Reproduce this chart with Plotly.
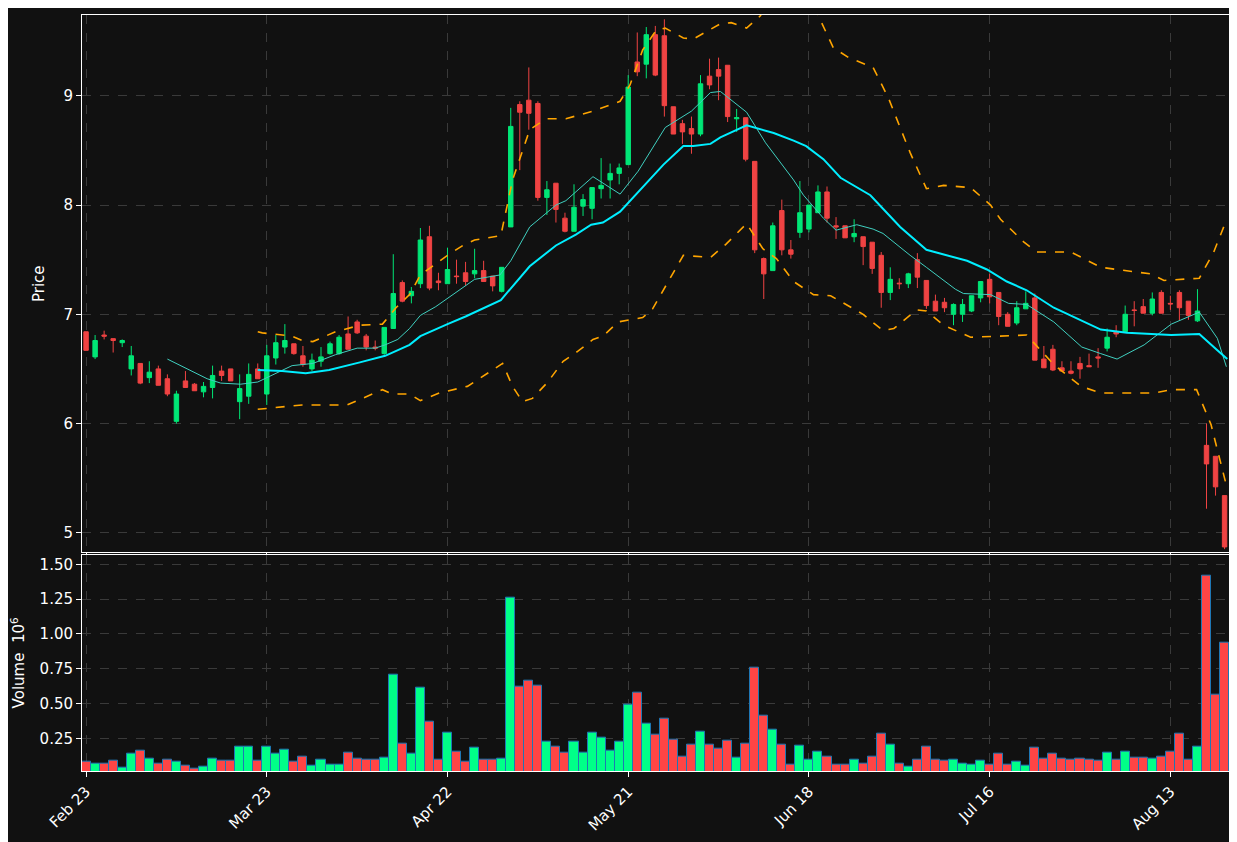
import plotly.graph_objects as go
from plotly.subplots import make_subplots

opens  = [6.84,6.61,6.81,6.777,6.74,6.50,6.55,6.42,6.50,6.41,6.02,6.39,6.36,6.29,6.33,6.48,6.50,6.20,6.25,6.50,
          6.27,6.60,6.70,6.73,6.62,6.50,6.57,6.64,6.64,6.82,6.93,6.80,6.70,6.64,6.87,7.29,7.17,7.28,7.71,7.305,
          7.28,7.35,7.38,7.37,7.40,7.35,7.21,7.80,8.92,8.96,8.93,8.07,8.20,7.88,7.76,7.99,7.97,8.15,8.23,8.29,
          8.37,9.31,9.29,9.56,9.55,8.90,8.745,8.70,8.65,9.18,9.24,9.28,8.79,8.80,8.40,7.51,7.40,7.95,7.59,7.75,
          7.78,7.93,8.12,7.81,7.81,7.71,7.71,7.66,7.54,7.20,7.285,7.28,7.50,7.31,7.12,7.11,7.00,7.00,7.03,7.15,
          7.32,7.20,7.00,6.92,7.05,7.15,6.59,6.68,6.51,6.48,6.55,6.53,6.61,6.69,6.84,6.84,7.04,7.07,7.01,7.20,
          7.10,7.20,7.12,6.94,5.80,5.70,5.34]
highs  = [6.84,6.81,6.85,6.78,6.77,6.71,6.55,6.57,6.53,6.45,6.30,6.48,6.37,6.38,6.53,6.53,6.50,6.45,6.55,6.55,
          6.72,6.81,6.91,6.73,6.71,6.64,6.70,6.75,6.81,6.98,6.95,6.82,6.76,6.88,7.55,7.31,7.25,7.79,7.81,7.38,
          7.61,7.50,7.48,7.60,7.49,7.35,7.43,8.89,8.95,9.26,8.95,8.22,8.20,7.93,8.19,8.10,8.16,8.43,8.38,8.38,
          9.19,9.58,9.63,9.64,9.70,8.90,8.78,8.81,9.19,9.34,9.35,9.28,8.88,8.80,8.40,7.52,7.84,8.05,7.68,8.22,
          8.00,8.18,8.17,7.89,7.81,7.87,7.71,7.66,7.57,7.43,7.33,7.38,7.56,7.31,7.18,7.15,7.10,7.14,7.17,7.30,
          7.37,7.20,7.02,7.12,7.21,7.19,6.71,6.72,6.57,6.57,6.61,6.64,6.69,6.87,6.90,7.08,7.12,7.14,7.20,7.22,
          7.17,7.22,7.12,7.23,6.00,5.70,5.34]
lows   = [6.67,6.59,6.77,6.65,6.70,6.44,6.36,6.37,6.35,6.25,6.00,6.33,6.30,6.24,6.23,6.39,6.39,6.04,6.18,6.41,
          6.17,6.54,6.64,6.63,6.52,6.48,6.52,6.63,6.63,6.68,6.82,6.67,6.67,6.63,6.87,7.11,7.10,7.24,7.22,7.22,
          7.28,7.28,7.26,7.33,7.30,7.21,7.20,7.80,8.32,8.69,8.04,7.91,7.84,7.75,7.76,7.90,7.87,8.06,8.06,8.19,
          8.37,9.18,9.16,9.18,8.81,8.65,8.56,8.47,8.63,9.06,8.96,8.76,8.67,8.40,7.56,7.14,7.40,7.54,7.51,7.70,
          7.75,7.93,7.84,7.69,7.70,7.66,7.45,7.37,7.06,7.13,7.23,7.24,7.24,7.05,7.03,7.02,6.90,6.93,7.02,7.11,
          7.10,6.90,6.89,6.90,7.05,6.58,6.51,6.48,6.48,6.45,6.41,6.52,6.51,6.66,6.79,6.84,6.89,7.01,6.99,7.01,
          7.04,6.94,6.95,6.93,5.22,5.34,4.85]
closes = [6.67,6.76,6.80,6.76,6.76,6.62,6.37,6.47,6.35,6.27,6.27,6.33,6.30,6.34,6.44,6.44,6.39,6.32,6.45,6.41,
          6.62,6.74,6.76,6.64,6.54,6.58,6.61,6.73,6.79,6.68,6.83,6.70,6.69,6.88,7.19,7.12,7.21,7.68,7.24,7.29,
          7.41,7.345,7.30,7.40,7.30,7.26,7.43,8.72,8.85,8.84,8.07,8.14,7.96,7.76,7.98,8.05,8.16,8.18,8.29,8.34,
          9.08,9.22,9.56,9.19,8.91,8.65,8.67,8.65,9.11,9.10,9.18,8.81,8.80,8.42,7.59,7.37,7.81,7.59,7.55,7.93,
          8.00,8.12,7.88,7.80,7.70,7.74,7.62,7.42,7.20,7.32,7.28,7.37,7.34,7.08,7.03,7.06,7.09,7.09,7.17,7.30,
          7.16,6.98,6.89,7.06,7.10,6.58,6.51,6.49,6.48,6.46,6.50,6.52,6.60,6.79,6.82,7.00,7.035,7.01,7.14,7.01,
          7.095,7.06,6.99,7.03,5.63,5.42,4.87]
volumes = [0.08,0.07,0.07,0.086,0.04,0.136,0.164,0.107,0.07,0.093,0.079,0.05,0.03,0.043,0.107,0.086,0.086,0.193,0.193,0.086,
           0.193,0.136,0.171,0.079,0.121,0.05,0.10,0.057,0.064,0.15,0.107,0.10,0.093,0.114,0.707,0.214,0.143,0.614,0.371,0.10,
           0.293,0.157,0.079,0.186,0.093,0.093,0.107,1.264,0.621,0.664,0.629,0.229,0.193,0.15,0.229,0.15,0.293,0.257,0.164,0.229,
           0.493,0.579,0.357,0.279,0.393,0.243,0.121,0.207,0.30,0.207,0.179,0.236,0.114,0.214,0.757,0.414,0.314,0.207,0.064,0.20,
           0.093,0.157,0.121,0.064,0.057,0.093,0.07,0.121,0.286,0.207,0.07,0.043,0.093,0.193,0.093,0.086,0.093,0.07,0.057,0.086,
           0.057,0.136,0.057,0.079,0.05,0.186,0.107,0.136,0.107,0.093,0.107,0.093,0.086,0.15,0.10,0.157,0.114,0.114,0.107,0.121,
           0.157,0.286,0.093,0.193,1.421,0.564,0.936]

tick_pos = [0, 20, 40, 60, 80, 100, 120]
tick_labels = ["Feb 23", "Mar 23", "Apr 22", "May 21", "Jun 18", "Jul 16", "Aug 13"]

ma_fast_x = [9,11.2,13.4,14.9,17.1,19,21.5,22.8,25.1,27.6,30,32,33.1,34.5,35.8,37,38.7,41.7,43,45.8,47,49.1,52,53.1,56.1,
             59.1,61.1,64.1,67,69.1,70.2,73.1,75.2,78.3,79.4,81.6,83,85.3,87.1,88.2,91.2,93,96.2,97.1,100.1,102.1,104.1,
             107.1,110.2,112.3,114.1,117.1,120.1,123.2,125.2,126.2]
ma_fast_y = [6.59,6.50,6.41,6.37,6.36,6.38,6.48,6.53,6.55,6.63,6.69,6.69,6.72,6.77,6.87,6.99,7.07,7.24,7.32,7.36,7.49,7.80,8.00,8.04,8.26,
             8.10,8.31,8.71,8.86,9.03,9.04,8.85,8.57,8.23,8.09,7.88,7.77,7.82,7.78,7.74,7.54,7.43,7.23,7.19,7.18,7.10,7.09,
             6.93,6.70,6.64,6.59,6.72,6.91,7.02,6.78,6.52]
ma_slow_x = [19,21.7,24.3,26.9,30.3,33.1,35.8,37,40,42,45.9,49.1,52,54.2,55.9,57.2,59.1,60,61.6,63.9,66.1,67.2,69.1,70.2,73.1,
             76.1,78.3,79.7,81.6,83.5,86.8,90.1,93,94.9,97.5,99.7,101.9,104.1,107.1,112.3,115.2,120.1,123.2,125.2,126.3]
ma_slow_y = [6.49,6.48,6.46,6.49,6.56,6.62,6.72,6.80,6.91,6.98,7.13,7.44,7.63,7.73,7.82,7.84,7.94,8.02,8.16,8.37,8.54,8.54,8.56,8.62,8.73,
             8.66,8.59,8.54,8.42,8.25,8.09,7.80,7.59,7.55,7.49,7.41,7.30,7.22,7.06,6.86,6.83,6.81,6.82,6.67,6.59]
upper_x = [19,19.5,22.8,23.9,25.1,27.6,30.3,32.8,34.3,35.8,37,38.7,40,41.7,43,45.9,47.2,49.1,50.9,53.1,56.1,59.1,60.2,61.6,63.1,
           64.1,66.1,67.2,70.2,71.4,73.1,74.6,76.6,79.4,81,82.7,84.4,87.1,88.8,91.2,93,94.9,97.9,100.1,101.2,103.8,105.2,109,
           112.3,117.8,119.3,123.2,124.8,126]
upper_y = [6.84,6.83,6.80,6.76,6.75,6.84,6.90,6.91,7.06,7.18,7.36,7.46,7.54,7.63,7.68,7.72,8.23,8.69,8.79,8.79,8.86,8.95,9.10,9.42,9.60,
           9.62,9.53,9.52,9.66,9.67,9.62,9.73,10.0,10.05,9.74,9.44,9.35,9.26,8.98,8.48,8.15,8.18,8.16,8.00,7.87,7.66,7.57,7.57,
           7.43,7.37,7.31,7.33,7.57,7.82]
lower_x = [19,23.9,28.9,32.8,33.9,35.8,37,39.1,42.2,43.9,46.1,47.2,48.3,49.4,51.1,52.8,54.4,56.1,57.2,58.9,61.6,62.7,64.4,66.1,
           69.1,70.8,73.1,74.9,76.4,78.3,80.5,82.4,86,88.2,89.4,91.9,93,94.9,97.9,101.9,104.1,107.1,110.1,112.3,118.2,120.1,
           122.9,124.5,126.3]
lower_y = [6.13,6.17,6.17,6.31,6.27,6.27,6.21,6.28,6.34,6.43,6.55,6.34,6.20,6.23,6.38,6.57,6.66,6.77,6.80,6.93,6.97,7.05,7.30,7.54,
           7.52,7.64,7.83,7.60,7.51,7.30,7.18,7.17,7.00,6.85,6.87,7.04,7.03,6.90,6.79,6.80,6.81,6.54,6.34,6.28,6.28,6.31,
           6.31,5.99,5.40]

UP_C, DN_C = "#00e676", "#f04343"
UP_V, DN_V = "#00ff88", "#ff4545"
idx = list(range(len(opens)))
vol_colors = [UP_V if c >= o else DN_V for o, c in zip(opens, closes)]

fig = make_subplots(rows=2, cols=1, shared_xaxes=True, vertical_spacing=0.003, row_heights=[0.713, 0.287])
fig.add_trace(go.Candlestick(x=idx, open=opens, high=highs, low=lows, close=closes,
                             increasing=dict(line=dict(color=UP_C, width=1), fillcolor=UP_C),
                             decreasing=dict(line=dict(color=DN_C, width=1), fillcolor=DN_C),
                             whiskerwidth=0, showlegend=False), row=1, col=1)
fig.add_trace(go.Scatter(x=ma_fast_x, y=ma_fast_y, mode="lines", line=dict(color="#40d0c0", width=1), showlegend=False), row=1, col=1)
fig.add_trace(go.Scatter(x=ma_slow_x, y=ma_slow_y, mode="lines", line=dict(color="#00eeff", width=2), showlegend=False), row=1, col=1)
for bx, by in [(upper_x, upper_y), (lower_x, lower_y)]:
    fig.add_trace(go.Scatter(x=bx, y=by, mode="lines", line=dict(color="#ffa500", width=1.6, dash="dash"), showlegend=False), row=1, col=1)
fig.add_trace(go.Bar(x=idx, y=volumes, marker=dict(color=vol_colors, line=dict(color="#1f77b4", width=1)),
                     width=1.0, showlegend=False), row=2, col=1)

ax = dict(showline=True, linecolor="white", linewidth=1, mirror=True, gridcolor="#3a3a3a", griddash="dash",
          zeroline=False, ticks="outside", tickcolor="white", color="white", tickfont=dict(size=15))
fig.update_xaxes(**ax, range=[-0.45, 126.6], tickvals=tick_pos, ticktext=tick_labels, rangeslider_visible=False)
fig.update_xaxes(tickangle=-45, row=2, col=1)
fig.update_yaxes(**ax)
fig.update_yaxes(range=[4.82, 9.74], tickvals=[5, 6, 7, 8, 9], title_text="Price", title_font_size=15, row=1, col=1)
fig.update_yaxes(range=[0.015, 1.57], tickvals=[0.25, 0.5, 0.75, 1.0, 1.25, 1.5],
                 ticktext=["0.25", "0.50", "0.75", "1.00", "1.25", "1.50"],
                 title_text="Volume  10<sup>6</sup>", title_font_size=15, row=2, col=1)
fig.update_layout(width=1237, height=842, paper_bgcolor="#111111", plot_bgcolor="#111111",
                  margin=dict(l=72, r=15, t=6, b=79), bargap=0,
                  font=dict(family="DejaVu Sans", size=15, color="white"))
fig.write_html("out.html")
